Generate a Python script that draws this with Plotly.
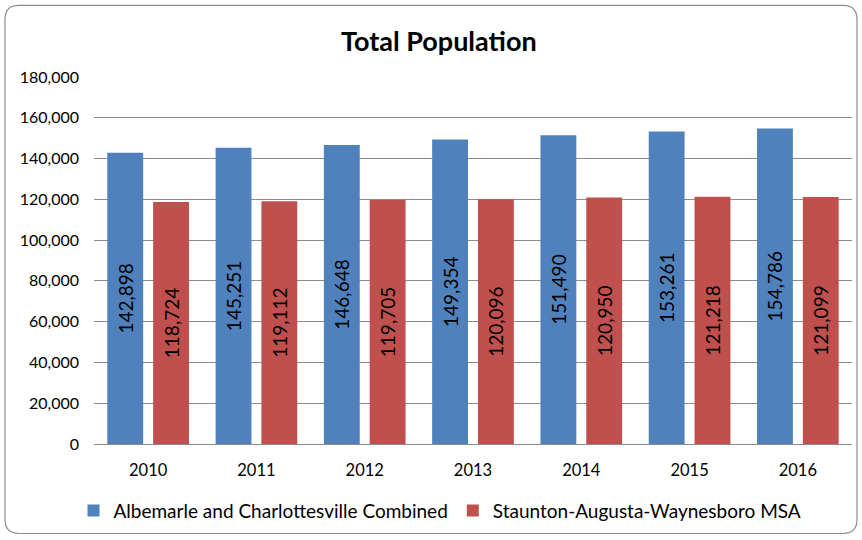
import plotly.graph_objects as go

years = ["2010", "2011", "2012", "2013", "2014", "2015", "2016"]
albemarle = [142898, 145251, 146648, 149354, 151490, 153261, 154786]
staunton = [118724, 119112, 119705, 120096, 120950, 121218, 121099]
series_names = ["Albemarle and Charlottesville Combined", "Staunton-Augusta-Waynesboro MSA"]
y_ticks = [0, 20000, 40000, 60000, 80000, 100000, 120000, 140000, 160000, 180000]

W, H = 862, 540
L, R, T, B = 94, 10, 77, 94
PW, PH = W - L - R, H - T - B

def px(x):
    return (x - L) / PW

def py(y):
    return (H - B - y) / PH

FONT = "Lato, 'Open Sans', sans-serif"

fig = go.Figure()
for name, vals, col in [(series_names[0], albemarle, "#4F81BD"), (series_names[1], staunton, "#C0504D")]:
    fig.add_trace(go.Bar(
        x=years, y=vals, name=name,
        marker=dict(color=col, line=dict(width=0)),
        text=[f"{v:,}" for v in vals],
        textposition="inside", insidetextanchor="middle", textangle=-90,
        textfont=dict(color="black", size=19, family=FONT),
        constraintext="none",
    ))

# rounded outer border
x0, x1, y0, y1, r = 5, 857, 5, 536, 14
path = (f"M {px(x0+r)},{py(y0)} L {px(x1-r)},{py(y0)} Q {px(x1)},{py(y0)} {px(x1)},{py(y0+r)} "
        f"L {px(x1)},{py(y1-r)} Q {px(x1)},{py(y1)} {px(x1-r)},{py(y1)} "
        f"L {px(x0+r)},{py(y1)} Q {px(x0)},{py(y1)} {px(x0)},{py(y1-r)} "
        f"L {px(x0)},{py(y0+r)} Q {px(x0)},{py(y0)} {px(x0+r)},{py(y0)} Z")
fig.add_shape(type="path", path=path, xref="paper", yref="paper",
              line=dict(color="#8C8C8C", width=1.2), layer="below")

fig.add_annotation(text="<b>Total Population</b>", x=px(439), y=py(40), xref="paper", yref="paper",
                   showarrow=False, font=dict(size=27, family=FONT, color="black"),
                   xanchor="center", yanchor="middle")

fig.update_layout(
    width=W, height=H,
    margin=dict(l=L, r=R, t=T, b=B),
    paper_bgcolor="white", plot_bgcolor="white",
    barmode="group", bargap=0.154, bargroupgap=0.217,
    font=dict(family=FONT, size=16, color="black"),
    showlegend=True,
    legend=dict(orientation="h", x=px(440), xanchor="center", y=py(513), yanchor="middle",
                font=dict(size=19, family=FONT), itemwidth=30, traceorder="normal"),
    xaxis=dict(showline=True, linecolor="#8C8C8C", linewidth=1, ticks="",
               ticklabelstandoff=11, tickfont=dict(size=16.5, family=FONT)),
    yaxis=dict(range=[0, 180000], tickvals=y_ticks, tickformat=",", showgrid=True,
               gridcolor="#8C8C8C", gridwidth=1, zeroline=False, showline=False,
               ticks="", ticklabelstandoff=14, tickfont=dict(size=16, family=FONT)),
)

fig.write_html("out.html", config={"displayModeBar": False},
               post_script="document.body.style.margin='0';")
